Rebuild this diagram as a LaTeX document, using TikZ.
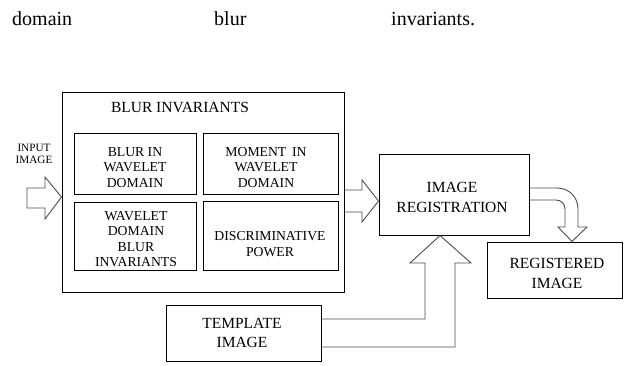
\documentclass[tikz,border=0pt]{standalone}
\usepackage{fontspec}
\setmainfont{Liberation Serif}
\begin{document}
\begin{tikzpicture}[x=1pt,y=-1pt,
  box/.style={draw=black,line width=1pt,inner sep=0pt},
  small/.style={align=center,inner sep=0pt,font=\fontsize{13.7}{15.6}\selectfont},
  big/.style={align=center,inner sep=0pt,font=\fontsize{15.5}{19.5}\selectfont},
  tiny/.style={align=center,inner sep=0pt,font=\fontsize{11.2}{12.2}\selectfont},
  head/.style={anchor=base west,inner sep=0pt,font=\fontsize{20}{24}\selectfont},
  blk/.style={draw=black!70,line width=0.9pt,line join=miter}]
\useasboundingbox (0,0) rectangle (625,365);
% header words
\node[head] (h1) at (12,25) {domain};
\node[head] (h2) at (214,25) {blur};
\node[head] (h3) at (391,25) {invariants.};
% boxes
\node[box,minimum width=282pt,minimum height=200pt] (outer) at (203,192) {};
\node[big] (ttl) at (180,107) {BLUR INVARIANTS};
\node[box,minimum width=122pt,minimum height=61pt] (b1) at (135,163.5) {};
\node[box,minimum width=135pt,minimum height=61pt] (b2) at (270.5,163.5) {};
\node[box,minimum width=122pt,minimum height=68pt] (b3) at (135,236) {};
\node[box,minimum width=135pt,minimum height=69pt] (b4) at (270.5,235.5) {};
\node[small] (t1) at (135,167.5) {BLUR IN\\WAVELET\\DOMAIN};
\node[small] (t2) at (266,167.5) {MOMENT\, IN\\WAVELET\\DOMAIN};
\node[small] (t3) at (136,239) {WAVELET\\DOMAIN\\BLUR\\INVARIANTS};
\node[small] (t4) at (270,244) {DISCRIMINATIVE\\POWER};
\node[tiny] (inp) at (34,154) {INPUT\\IMAGE};
\node[box,minimum width=150pt,minimum height=81pt] (reg) at (454,194.5) {};
\node[big] (regt) at (452,197.5) {IMAGE\\REGISTRATION};
\node[box,minimum width=135pt,minimum height=56pt] (out) at (554.5,270) {};
\node[big] (outt) at (557,273.5) {REGISTERED\\IMAGE};
\node[box,minimum width=155pt,minimum height=56pt] (tpl) at (243.5,333) {};
\node[big] (tplt) at (242,333) {TEMPLATE\\IMAGE};
% block arrows
\draw[blk] (27,188) -- (45,188) -- (45,177) -- (outer.west |- 0,197) -- (45,219) -- (45,208) -- (27,208) -- cycle;
\draw[blk] (outer.east |- 0,190) -- (362,190) -- (362,180) -- (reg.west |- 0,201) -- (362,222) -- (362,212) -- (outer.east |- 0,212);
\draw[blk] (tpl.east |- 0,319) -- (425,319) -- (425,263) -- (410,263) -- (reg.south -| 440,0) -- (471,263) -- (455,263) -- (455,347) -- (tpl.east |- 0,347);
\draw[blk] (reg.east |- 0,188) -- (557,188) .. controls (569,188) and (578,197) .. (578,209) -- (578,227) -- (587,227) -- (out.north -| 572,0) -- (558,227) -- (565,227) -- (565,209) .. controls (565,204) and (561,200) .. (556,200) -- (reg.east |- 0,200);
\end{tikzpicture}
\end{document}
